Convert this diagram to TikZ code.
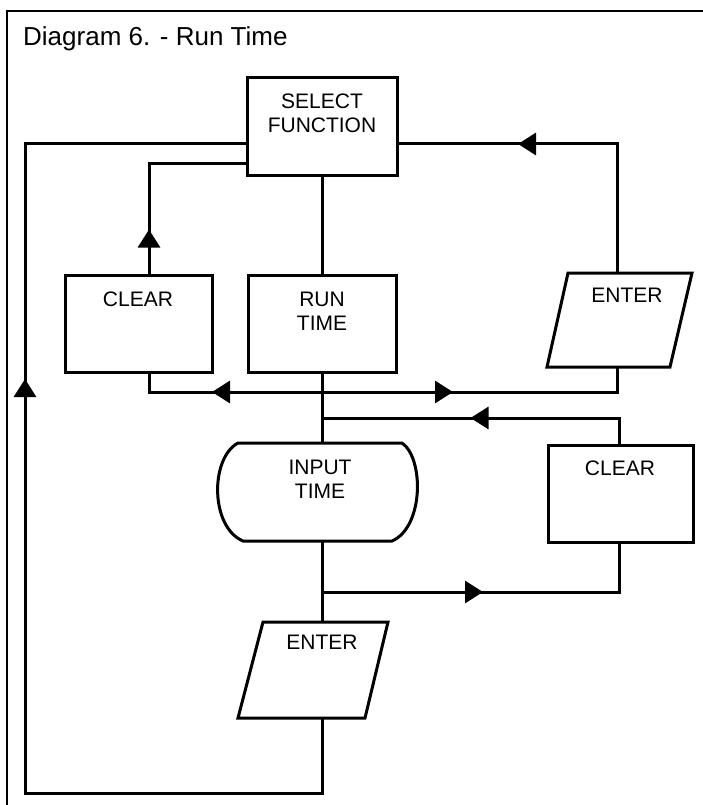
\documentclass[tikz,border=0pt]{standalone}
\usepackage{fontspec}
\setmainfont{Liberation Sans}
\usetikzlibrary{arrows.meta,decorations.markings}
\tikzset{
  ln/.style={draw=black, line width=3pt, line join=miter},
  boxnode/.style={ln, rectangle, inner sep=0pt},
  lbl/.style={anchor=north, inner sep=0pt, align=center, font=\fontsize{21}{24}\selectfont},
  midarrow/.style={postaction={decorate}, decoration={markings,
      mark=at position #1 with {\arrow{Triangle[length=18pt,width=22pt]}}}},
}
\begin{document}
\begin{tikzpicture}[x=1pt,y=-1pt]
\useasboundingbox (0,0) rectangle (703,805);
% frame
\draw[line width=1.5pt] (7,805) -- (7,11) -- (703,11);
\node[anchor=base west, inner sep=0pt, font=\fontsize{26}{30}\selectfont] (title) at (23,45.5) {Diagram 6. - Run Time};

% boxes
\node[boxnode, minimum width=150pt, minimum height=98pt] (sel) at (322,127) {};
\node[lbl] (selt) at (322,93.5) {SELECT\\FUNCTION};
\node[boxnode, minimum width=147pt, minimum height=97pt] (clr1) at (138.5,323.5) {};
\node[lbl] (clr1t) at (138,291.5) {CLEAR};
\node[boxnode, minimum width=148pt, minimum height=97pt] (run) at (322,323.5) {};
\node[lbl] (runt) at (322,291.5) {RUN\\TIME};
\node[boxnode, minimum width=145pt, minimum height=97pt] (clr2) at (620.5,493.5) {};
\node[lbl] (clr2t) at (620,461) {CLEAR};

% parallelogram ENTER (upper right)
\draw[ln] (568,273) -- (692,273) -- (670,367) -- (547,367) -- cycle;
\coordinate (ent1top) at (617,273);
\coordinate (ent1bot) at (617,367);
\node[lbl] (ent1t) at (627,288) {ENTER};

% INPUT TIME shape
\draw[ln] (238,443) -- (402,443) .. controls (424,458) and (424,527) .. (392,541)
  -- (243,541) .. controls (210,527) and (210,458) .. (238,443) -- cycle;
\coordinate (inptop) at (322,443);
\coordinate (inpbot) at (322,541);
\node[lbl] (inpt) at (320,460) {INPUT\\TIME};

% parallelogram ENTER (lower)
\draw[ln] (263,622) -- (388,622) -- (365,718) -- (238,718) -- cycle;
\coordinate (ent2top) at (322,622);
\coordinate (ent2bot) at (322,718);
\node[lbl] (ent2t) at (322,635) {ENTER};

% junctions
\coordinate (j1) at (322,392);
\coordinate (j2) at (322,418);
\coordinate (j3) at (322,592);

% connectors
\draw[ln] (sel.south) -- (run.north);
\draw[ln] (run.south) -- (inptop);
\draw[ln] (inpbot) -- (ent2top);
% left outer loop
\draw[ln, midarrow=786pt] (ent2bot) -- (322,793) -- (25,793) -- (25,144) -- (sel.west |- 0,144);
% clear1 -> select
\draw[ln, midarrow=44pt] (clr1.north -| 149,0) -- (149,164) -- (sel.west |- 0,164);
% enter1 -> select
\draw[ln, midarrow=228pt] (ent1top) -- (617,144) -- (sel.east |- 0,144);
% run -> clear1
\draw[ln, midarrow=110pt] (j1) -- (149,392) -- (clr1.south -| 149,0);
% run -> enter1
\draw[ln, midarrow=131pt] (j1) -- (617,392) -- (ent1bot);
% clear2 -> main line
\draw[ln, midarrow=174pt] (clr2.north -| 619,0) -- (619,418) -- (j2);
% main line -> clear2
\draw[ln, midarrow=161pt] (j3) -- (619,592) -- (clr2.south -| 619,0);
\end{tikzpicture}
\end{document}
